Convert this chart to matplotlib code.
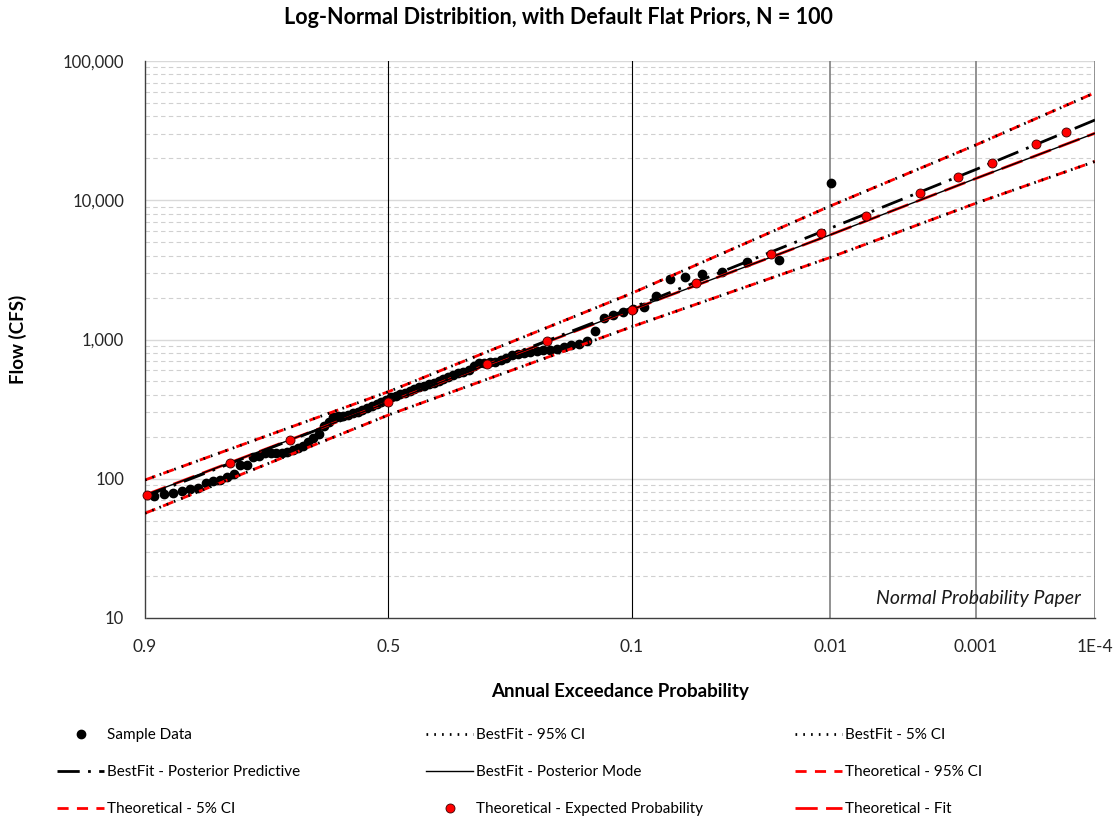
import numpy as np
import matplotlib
matplotlib.use("Agg")
import matplotlib.pyplot as plt
from matplotlib.ticker import FixedLocator, FixedFormatter, NullLocator, NullFormatter
from statistics import NormalDist

plt.rcParams['font.family'] = ['Lato', 'DejaVu Sans']

# ---------------- data ----------------
N_SAMPLE = 100
# ranked sample flows (rank 1 = largest); ranks beyond 90 fall outside the 0.9 axis limit
sample_flows = [13300, 3720, 3610, 3055, 2970, 2810, 2720, 2050, 1720, 1656,
                1575, 1500, 1426, 1150, 976, 933, 906, 877, 859, 846,
                835, 827, 815, 806, 792, 774, 731, 713, 689, 684,
                678, 673, 645, 604, 586, 570, 554, 538, 520, 503,
                489, 477, 465, 454, 441, 427, 414, 404, 396, 389,
                368, 356, 344, 333, 322, 312, 304, 295, 289, 282,
                280, 277, 256, 241, 210, 196, 184, 172, 166, 161,
                156, 154, 153, 152, 152, 146.5, 144, 125.5, 125.5, 107.6,
                103.4, 97.9, 96.3, 92.7, 85.3, 84.4, 81.7, 79.4, 77.6, 75.2]

curve_aep = [0.9, 0.5, 0.1, 0.01, 0.001, 0.0001]
fit_flow = [76.4, 354, 1640, 5650, 14300, 30300]
predictive_flow = [74.6, 354, 1690, 6300, 16600, 37700]
ci95_flow = [98, 422, 2150, 9100, 24900, 59200]
ci5_flow = [56.5, 287, 1236, 3890, 9500, 19000]

expected_aep = [0.898, 0.798, 0.698, 0.5, 0.3016, 0.2019, 0.1001, 0.0526, 0.0219,
                0.0114, 0.00596, 0.00257, 0.00137, 0.000743, 0.000328, 0.00018]
expected_flow = [76, 129.5, 189, 354, 662, 968, 1640, 2535, 4130,
                 5800, 7710, 11200, 14600, 18400, 25200, 31000]

x_ticks = [0.9, 0.5, 0.1, 0.01, 0.001, 0.0001]
x_tick_labels = ["0.9", "0.5", "0.1", "0.01", "0.001", "1E-4"]
y_ticks = [10, 100, 1000, 10000, 100000]
y_tick_labels = ["10", "100", "1,000", "10,000", "100,000"]

# ---------------- normal probability scale ----------------
_nd = NormalDist()


def _z(v):
    if not np.isfinite(v):
        return np.nan
    v = min(max(v, 1e-12), 1 - 1e-12)
    return _nd.inv_cdf(1 - v)


def _p(v):
    if not np.isfinite(v):
        return np.nan
    return 1 - _nd.cdf(v)


_zv = np.vectorize(_z, otypes=[float])
_pv = np.vectorize(_p, otypes=[float])


def fwd(p):
    return _zv(np.asarray(p, dtype=float))


def inv(z):
    return _pv(np.asarray(z, dtype=float))


fig = plt.figure(figsize=(11.16, 8.21), dpi=100)
ax = fig.add_axes([145 / 1116, 1 - 618 / 821, (1095 - 145) / 1116, (618 - 61) / 821])
ax.set_xscale('function', functions=(fwd, inv))
ax.set_yscale('log')
ax.set_xlim(0.0001, 0.9)
ax.set_ylim(10, 100000)

# grid
for d in [10, 100, 1000, 10000]:
    for m in range(2, 10):
        ax.axhline(d * m, color='#d0d0d0', lw=0.8, ls=(0, (4, 3)), zorder=0)
for d in [100, 1000, 10000, 100000]:
    ax.axhline(d, color='#d9d9d9', lw=1.0, zorder=0)
for p in [0.5, 0.1]:
    ax.axvline(p, color='black', lw=0.8, zorder=1)
for p in [0.01, 0.001, 0.0001]:
    ax.axvline(p, color='#7f7f7f', lw=1.2, zorder=1)

# sample
n = len(sample_flows)
sample_aep = [(i + 1) / (N_SAMPLE + 1) for i in range(n)]
h_sample, = ax.plot(sample_aep, sample_flows, 'o', color='black', ms=6, mec='black', zorder=3,
                    label='Sample Data')

h_t95, = ax.plot(curve_aep, ci95_flow, color='#ff0000', lw=2, ls=(0, (4, 3)), zorder=4,
                 label='Theoretical - 95% CI')
h_t5, = ax.plot(curve_aep, ci5_flow, color='#ff0000', lw=2, ls=(0, (4, 3)), zorder=4,
                label='Theoretical - 5% CI')
h_b95, = ax.plot(curve_aep, ci95_flow, color='black', lw=2, ls=(0, (0.6, 2.2)), zorder=5,
                 label='BestFit - 95% CI')
h_b5, = ax.plot(curve_aep, ci5_flow, color='black', lw=2, ls=(0, (0.6, 2.2)), zorder=5,
                label='BestFit - 5% CI')
h_tfit, = ax.plot(curve_aep, fit_flow, color='#ff0000', lw=2, ls=(0, (8, 3)), zorder=5,
                  label='Theoretical - Fit')
h_mode, = ax.plot(curve_aep, fit_flow, color='black', lw=1, ls='-', zorder=6,
                  label='BestFit - Posterior Mode')
h_pred, = ax.plot(curve_aep, predictive_flow, color='black', lw=2, ls=(0, (8, 3, 1, 3)), zorder=6,
                  label='BestFit - Posterior Predictive')
h_exp, = ax.plot(expected_aep, expected_flow, 'o', color='#ff0000', ms=6.5, mec='#3a0000',
                 mew=0.6, zorder=7, label='Theoretical - Expected Probability', clip_on=False)

# axes styling
for s in ['top', 'right']:
    ax.spines[s].set_visible(False)
ax.spines['left'].set_color('#404040')
ax.spines['left'].set_linewidth(1.0)
ax.spines['bottom'].set_color('#404040')
ax.spines['bottom'].set_linestyle((0, (2, 1)))
ax.spines['bottom'].set_linewidth(1.0)

ax.xaxis.set_major_locator(FixedLocator(x_ticks))
ax.xaxis.set_major_formatter(FixedFormatter(x_tick_labels))
ax.xaxis.set_minor_locator(NullLocator())
ax.xaxis.set_minor_formatter(NullFormatter())
ax.yaxis.set_major_locator(FixedLocator(y_ticks))
ax.yaxis.set_major_formatter(FixedFormatter(y_tick_labels))
ax.yaxis.set_minor_locator(NullLocator())
ax.yaxis.set_minor_formatter(NullFormatter())
ax.tick_params(axis='x', length=0, pad=15, labelsize=12.5, labelcolor='#262626')
ax.tick_params(axis='y', length=0, pad=15, labelsize=12, labelcolor='#262626')

ax.set_xlabel('Annual Exceedance Probability', fontsize=13.5, fontweight='bold')
ax.set_ylabel('Flow (CFS)', fontsize=13.5, fontweight='bold')
ax.xaxis.set_label_coords(0.5, -(692 - 618) / 557)
ax.xaxis.label.set_va('center')
ax.yaxis.set_label_coords((18 - 145) / 950, 0.5)
ax.yaxis.label.set_va('center')

fig.text(0.5, 1 - 18 / 821, 'Log-Normal Distribition, with Default Flat Priors, N = 100',
         ha='center', va='center', fontsize=15.5, fontweight='bold')
ax.text(0.985, 0.035, 'Normal Probability Paper', transform=ax.transAxes, ha='right',
        va='center', fontsize=14, fontstyle='italic', color='#1a1a1a')

columns = [[h_sample, h_pred, h_t5], [h_b95, h_mode, h_exp], [h_b5, h_t95, h_tfit]]
col_x = [57, 426, 795]
for hs, cx in zip(columns, col_x):
    leg = fig.legend(handles=hs, ncol=1, loc='upper left',
                     bbox_to_anchor=(cx / 1116, 1 - 728 / 821), frameon=False, fontsize=11,
                     handlelength=3.1, handletextpad=0.15, labelspacing=1.52,
                     borderpad=0, borderaxespad=0)

fig.savefig('out.png', dpi=100)
